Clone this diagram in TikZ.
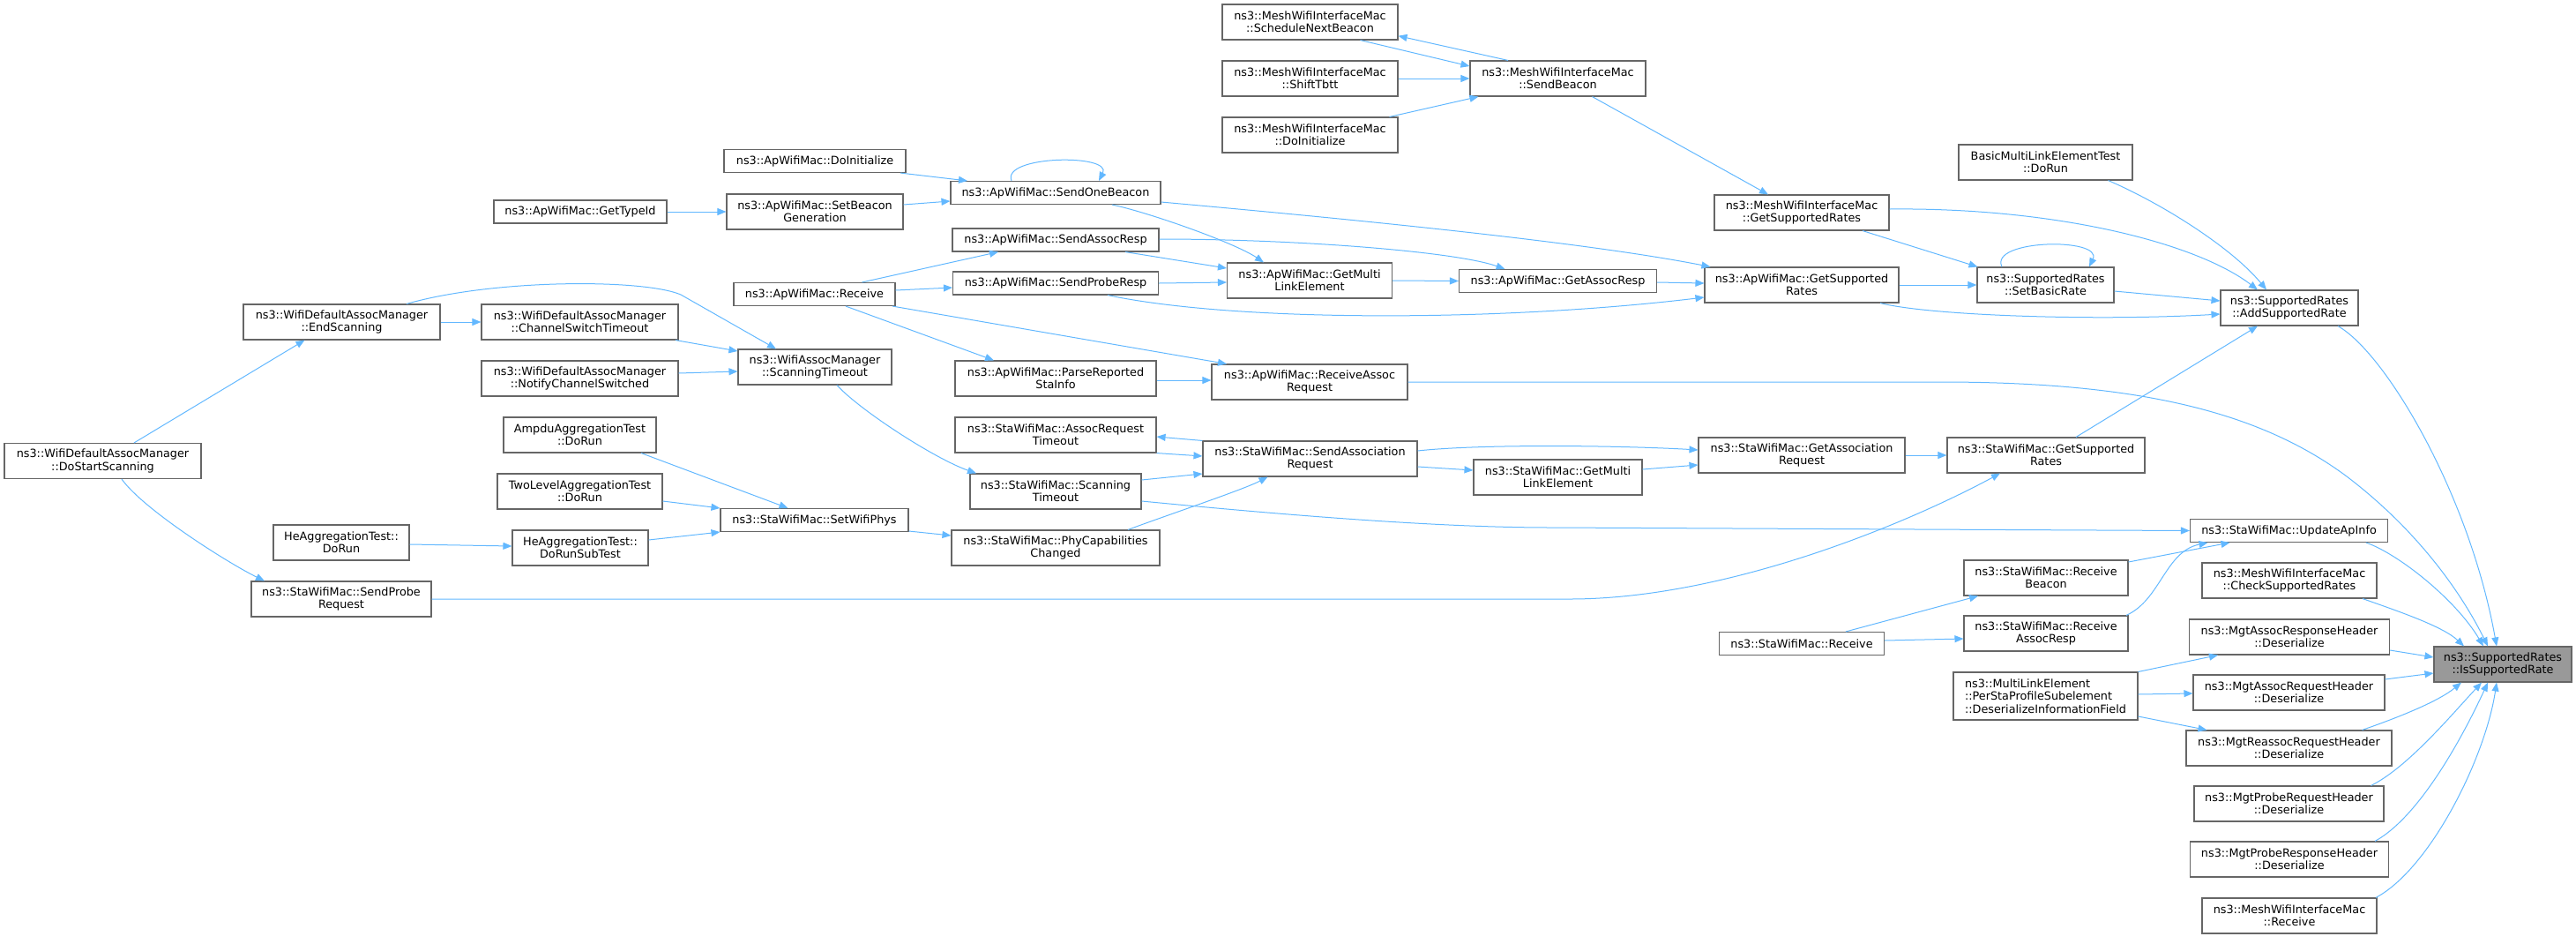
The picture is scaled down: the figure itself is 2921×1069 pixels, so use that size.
\documentclass[tikz,border=0pt]{standalone}
\usepackage{fontspec}
\setmainfont{DejaVu Sans}
\usetikzlibrary{calc,arrows.meta}
\definecolor{edgecol}{HTML}{63B8FF}
\definecolor{bordcol}{HTML}{666666}
\definecolor{hilite}{HTML}{999999}
\newcommand\nfont{\fontsize{12.8}{14.4}\selectfont}
\tikzset{
  box/.style={draw=bordcol, line width=1.1pt, fill=white, inner sep=0pt, align=center, font=\nfont},
  edge/.style={draw=edgecol, line width=1pt, -{Triangle[length=10pt,width=8pt]}}
}
\begin{document}
\begin{tikzpicture}[x=1pt,y=-1pt]
\useasboundingbox (0,0) rectangle (2921,1069);
% nodes
\node[box,minimum width=223,minimum height=40] (dss) at (116.5,522.5) {ns3::WifiDefaultAssocManager\\::DoStartScanning};
\node[box,minimum width=223,minimum height=40] (ends) at (387.5,365) {ns3::WifiDefaultAssocManager\\::EndScanning};
\node[box,minimum width=154,minimum height=40] (hedr) at (387,615) {HeAggregationTest::\\DoRun};
\node[box,minimum width=204,minimum height=40] (spr) at (387,679) {ns3::StaWifiMac::SendProbe\\Request};
\node[box,minimum width=196,minimum height=26] (gtid) at (658,240) {ns3::ApWifiMac::GetTypeId};
\node[box,minimum width=223,minimum height=40] (cst) at (657.5,365) {ns3::WifiDefaultAssocManager\\::ChannelSwitchTimeout};
\node[box,minimum width=223,minimum height=40] (ncs) at (657.5,429) {ns3::WifiDefaultAssocManager\\::NotifyChannelSwitched};
\node[box,minimum width=173,minimum height=40] (ampdu) at (657.5,493) {AmpduAggregationTest\\::DoRun};
\node[box,minimum width=187,minimum height=40] (twol) at (657.5,557) {TwoLevelAggregationTest\\::DoRun};
\node[box,minimum width=154,minimum height=40] (hesub) at (658,621) {HeAggregationTest::\\DoRunSubTest};
\node[box,minimum width=206,minimum height=26] (apinit) at (924,182.5) {ns3::ApWifiMac::DoInitialize};
\node[box,minimum width=200,minimum height=40] (sbg) at (924,240) {ns3::ApWifiMac::SetBeacon\\Generation};
\node[box,minimum width=183,minimum height=26] (aprecv) at (923.5,333.5) {ns3::ApWifiMac::Receive};
\node[box,minimum width=174,minimum height=40] (wst) at (924,416) {ns3::WifiAssocManager\\::ScanningTimeout};
\node[box,minimum width=213,minimum height=26] (swp) at (923.5,589.5) {ns3::StaWifiMac::SetWifiPhys};
\node[box,minimum width=238,minimum height=26] (sob) at (1197,218.5) {ns3::ApWifiMac::SendOneBeacon};
\node[box,minimum width=234,minimum height=26] (sar) at (1197,272) {ns3::ApWifiMac::SendAssocResp};
\node[box,minimum width=233,minimum height=26] (sprr) at (1197,321) {ns3::ApWifiMac::SendProbeResp};
\node[box,minimum width=228,minimum height=40] (prsi) at (1197,429) {ns3::ApWifiMac::ParseReported\\StaInfo};
\node[box,minimum width=228,minimum height=40] (art) at (1197,493) {ns3::StaWifiMac::AssocRequest\\Timeout};
\node[box,minimum width=194,minimum height=40] (sst) at (1197,557) {ns3::StaWifiMac::Scanning\\Timeout};
\node[box,minimum width=236,minimum height=40] (pcc) at (1197,621) {ns3::StaWifiMac::PhyCapabilities\\Changed};
\node[box,minimum width=199,minimum height=40] (snb) at (1485.5,25) {ns3::MeshWifiInterfaceMac\\::ScheduleNextBeacon};
\node[box,minimum width=199,minimum height=40] (stb) at (1485.5,89) {ns3::MeshWifiInterfaceMac\\::ShiftTbtt};
\node[box,minimum width=199,minimum height=40] (mdi) at (1485.5,153) {ns3::MeshWifiInterfaceMac\\::DoInitialize};
\node[box,minimum width=187,minimum height=40] (apgml) at (1485,318) {ns3::ApWifiMac::GetMulti\\LinkElement};
\node[box,minimum width=222,minimum height=40] (rar) at (1485,433) {ns3::ApWifiMac::ReceiveAssoc\\Request};
\node[box,minimum width=243,minimum height=40] (sasr) at (1485.5,520) {ns3::StaWifiMac::SendAssociation\\Request};
\node[box,minimum width=199,minimum height=40] (sb) at (1766.5,89) {ns3::MeshWifiInterfaceMac\\::SendBeacon};
\node[box,minimum width=224,minimum height=26] (gar) at (1766.5,318.5) {ns3::ApWifiMac::GetAssocResp};
\node[box,minimum width=191,minimum height=40] (stagml) at (1766.5,541) {ns3::StaWifiMac::GetMulti\\LinkElement};
\node[box,minimum width=198,minimum height=40] (mgsr) at (2043,241) {ns3::MeshWifiInterfaceMac\\::GetSupportedRates};
\node[box,minimum width=220,minimum height=40] (apgsr) at (2043,323) {ns3::ApWifiMac::GetSupported\\Rates};
\node[box,minimum width=234,minimum height=40] (gasr) at (2043,516) {ns3::StaWifiMac::GetAssociation\\Request};
\node[box,minimum width=187,minimum height=26] (starecv) at (2043,729.5) {ns3::StaWifiMac::Receive};
\node[box,minimum width=197,minimum height=40] (bml) at (2319.5,184) {BasicMultiLinkElementTest\\::DoRun};
\node[box,minimum width=155,minimum height=40] (sbr) at (2319.5,323) {ns3::SupportedRates\\::SetBasicRate};
\node[box,minimum width=224,minimum height=40] (stagsr) at (2320,516) {ns3::StaWifiMac::GetSupported\\Rates};
\node[box,minimum width=186,minimum height=40] (rb) at (2320,655) {ns3::StaWifiMac::Receive\\Beacon};
\node[box,minimum width=186,minimum height=40] (rasr) at (2320,718) {ns3::StaWifiMac::Receive\\AssocResp};
\node[box,minimum width=209,minimum height=54,align=left] (mle) at (2319.5,789) {ns3::MultiLinkElement\\::PerStaProfileSubelement\\::DeserializeInformationField};
\node[box,minimum width=156,minimum height=40] (asr) at (2596,349) {ns3::SupportedRates\\::AddSupportedRate};
\node[box,minimum width=224,minimum height=26] (uai) at (2595.5,601.5) {ns3::StaWifiMac::UpdateApInfo};
\node[box,minimum width=198,minimum height=40] (csr) at (2596,658) {ns3::MeshWifiInterfaceMac\\::CheckSupportedRates};
\node[box,minimum width=227,minimum height=40] (marh) at (2596,722) {ns3::MgtAssocResponseHeader\\::Deserialize};
\node[box,minimum width=217,minimum height=40] (maqh) at (2595.5,785) {ns3::MgtAssocRequestHeader\\::Deserialize};
\node[box,minimum width=233,minimum height=40] (mrqh) at (2595.5,848) {ns3::MgtReassocRequestHeader\\::Deserialize};
\node[box,minimum width=215,minimum height=40] (mprq) at (2595.5,911) {ns3::MgtProbeRequestHeader\\::Deserialize};
\node[box,minimum width=225,minimum height=40] (mprs) at (2596,974) {ns3::MgtProbeResponseHeader\\::Deserialize};
\node[box,minimum width=198,minimum height=40] (mrecv) at (2596,1038) {ns3::MeshWifiInterfaceMac\\::Receive};
\node[box,minimum width=156,minimum height=40,fill=hilite] (isr) at (2838,753) {ns3::SupportedRates\\::IsSupportedRate};
% edges
\draw[edge] ($(dss.north)+(35.5,0)$) -- ($(ends.south)+(-42,0)$);
\draw[edge] ($(dss.south)+(21.5,0)$) .. controls (163,578) and (260,639) .. ($(spr.north)+(-87,0)$);
\draw[edge] (ends.east) -- (cst.west);
\draw[edge] ($(ends.north)+(73.5,0)$) .. controls (560,316) and (730,316) .. (772,334) -- ($(wst.north)+(-44,0)$);
\draw[edge] ($(cst.south)+(108.5,0)$) -- ($(wst.west)+(0,-18)$);
\draw[edge] ($(ncs.east)+(0,-6)$) -- ($(wst.west)+(0,5)$);
\draw[edge] (gtid.east) -- (sbg.west);
\draw[edge] ($(apinit.south)+(97,0)$) -- ($(sob.north)+(-100,0)$);
\draw[edge] ($(sbg.east)+(0,-8)$) -- ($(sob.west)+(0,9.5)$);
\draw[edge] ($(sob.north)+(-50,0)$) .. controls (1135,176) and (1262,174) .. ($(sob.north)+(49,0)$);
\draw[edge] ($(sob.south)+(64,0)$) .. controls (1300,240) and (1400,275) .. ($(apgml.north)+(-52,0)$);
\draw[edge] ($(sob.east)+(0,10.5)$) .. controls (1550,250) and (1800,275) .. ($(apgsr.north west)+(7,0)$);
\draw[edge] ($(aprecv.north)+(54,0)$) -- ($(sar.south)+(-65,0)$);
\draw[edge] ($(aprecv.east)+(0,-4.5)$) -- ($(sprr.west)+(0,5)$);
\draw[edge] ($(aprecv.south)+(35.5,0)$) -- ($(prsi.north)+(-70,0)$);
\draw[edge] ($(aprecv.south)+(88.5,0)$) -- ($(rar.north)+(-94,0)$);
\draw[edge] ($(sar.south)+(79,0)$) -- ($(apgml.west)+(0,-14)$);
\draw[edge] ($(sar.east)+(0,-1)$) .. controls (1470,271) and (1650,285) .. ($(gar.north)+(-60,0)$);
\draw[edge] (sprr.east) -- ($(apgml.west)+(0,2)$);
\draw[edge] ($(sprr.south)+(59,0)$) .. controls (1400,365) and (1700,365) .. ($(apgsr.west)+(0,14)$);
\draw[edge] (apgml.east) -- (gar.west);
\draw[edge] ($(gar.east)+(0,1.5)$) -- ($(apgsr.west)+(0,-2)$);
\draw[edge] ($(prsi.east)+(0,2)$) -- ($(rar.west)+(0,-2)$);
\draw[edge] ($(wst.south)+(25,0)$) .. controls (975,465) and (1060,520) .. ($(sst.north)+(-90,0)$);
\draw[edge] (sasr.north west) -- ($(art.east)+(0,2)$);
\draw[edge] (art.south east) -- ($(sasr.west)+(0,-3)$);
\draw[edge] ($(sst.east)+(0,-13)$) -- ($(sasr.west)+(0,17)$);
\draw[edge] ($(sst.east)+(0,11)$) .. controls (1500,588) and (1650,598) .. (1760,598) -- (uai.west);
\draw[edge] ($(pcc.north)+(82,0)$) .. controls (1320,585) and (1410,555) .. ($(sasr.south)+(-48,0)$);
\draw[edge] ($(swp.east)+(0,12.5)$) -- ($(pcc.west)+(0,-14)$);
\draw[edge] ($(ampdu.south)+(69.5,0)$) -- ($(swp.north)+(-30,0)$);
\draw[edge] ($(twol.east)+(0,11)$) -- (swp.north west);
\draw[edge] ($(hesub.east)+(0,-9)$) -- (swp.south west);
\draw[edge] ($(hedr.east)+(0,2)$) -- ($(hesub.west)+(0,-2)$);
\draw[edge] (spr.east) -- (1780,679) .. controls (1950,679) and (2150,600) .. ($(stagsr.south)+(-52,0)$);
\draw[edge] ($(sasr.east)+(0,-9)$) .. controls (1680,503) and (1840,505) .. ($(gasr.west)+(0,-6)$);
\draw[edge] ($(sasr.east)+(0,9)$) -- ($(stagml.west)+(0,-8)$);
\draw[edge] ($(stagml.east)+(0,-9)$) -- ($(gasr.west)+(0,11)$);
\draw[edge] (gasr.east) -- (stagsr.west);
\draw[edge] ($(sb.south)+(39,0)$) -- ($(mgsr.north)+(-38,0)$);
\draw[edge] ($(snb.south)+(57,0)$) -- ($(sb.west)+(0,-14)$);
\draw[edge] ($(sb.north)+(-56.5,0)$) -- ($(snb.east)+(0,15.7)$);
\draw[edge] (stb.east) -- (sb.west);
\draw[edge] ($(mdi.north)+(90,0)$) -- ($(sb.south west)+(10,0)$);
\draw[edge] ($(mgsr.south)+(69,0)$) -- ($(sbr.north)+(-77,0)$);
\draw[edge] ($(mgsr.east)+(0,-4)$) .. controls (2330,235) and (2490,275) .. ($(asr.north)+(-36,0)$);
\draw[edge] (apgsr.east) -- (sbr.west);
\draw[edge] ($(apgsr.south)+(89,0)$) .. controls (2190,358) and (2380,364) .. ($(asr.west)+(0,7)$);
\draw[edge] ($(sbr.north)+(-49.5,0)$) .. controls (2255,271) and (2385,269) .. ($(sbr.north)+(49.5,0)$);
\draw[edge] ($(sbr.east)+(0,7)$) -- ($(asr.west)+(0,-8)$);
\draw[edge] ($(bml.south)+(71,0)$) .. controls (2450,230) and (2530,280) .. ($(asr.north)+(-26,0)$);
\draw[edge] ($(stagsr.north)+(34,0)$) -- ($(asr.south)+(-36,0)$);
\draw[edge] ($(asr.south)+(55,0)$) .. controls (2705,400) and (2800,560) .. ($(isr.north)+(-7,0)$);
\draw[edge] (rar.east) -- (2200,433) .. controls (2420,433) and (2560,465) .. (2661,540) .. controls (2740,600) and (2790,670) .. ($(isr.north)+(-17,0)$);
\draw[edge] ($(uai.south)+(87.5,0)$) .. controls (2720,628) and (2785,680) .. ($(isr.north)+(-22,0)$);
\draw[edge] ($(rb.east)+(0,-18)$) -- ($(uai.south)+(-67,0)$);
\draw[edge] ($(rasr.north)+(91,0)$) .. controls (2450,680) and (2455,625) .. ($(uai.south)+(-92,0)$);
\draw[edge] ($(starecv.north)+(50,0)$) -- ($(rb.south)+(-77,0)$);
\draw[edge] ($(starecv.east)+(0,-3.5)$) -- ($(rasr.west)+(0,6)$);
\draw[edge] ($(csr.south)+(83,0)$) .. controls (2720,693) and (2770,710) .. ($(isr.north)+(-44,0)$);
\draw[edge] ($(marh.east)+(0,15)$) -- ($(isr.west)+(0,-8)$);
\draw[edge] ($(maqh.east)+(0,-15)$) -- ($(isr.west)+(0,10)$);
\draw[edge] ($(mrqh.north)+(83,0)$) .. controls (2720,813) and (2765,795) .. ($(isr.south)+(-47,0)$);
\draw[edge] ($(mprq.north)+(93,0)$) .. controls (2730,870) and (2780,810) .. ($(isr.south)+(-24,0)$);
\draw[edge] ($(mprs.north)+(97,0)$) .. controls (2745,925) and (2795,830) .. ($(isr.south)+(-17,0)$);
\draw[edge] ($(mrecv.north)+(98,0)$) .. controls (2755,985) and (2818,860) .. ($(isr.south)+(-7,0)$);
\draw[edge] (mle.north east) -- ($(marh.south)+(-81,0)$);
\draw[edge] ($(mle.east)+(0,-2)$) -- ($(maqh.west)+(0,1)$);
\draw[edge] ($(mle.east)+(0,23)$) -- ($(mrqh.north)+(-93,0)$);
\end{tikzpicture}
\end{document}
